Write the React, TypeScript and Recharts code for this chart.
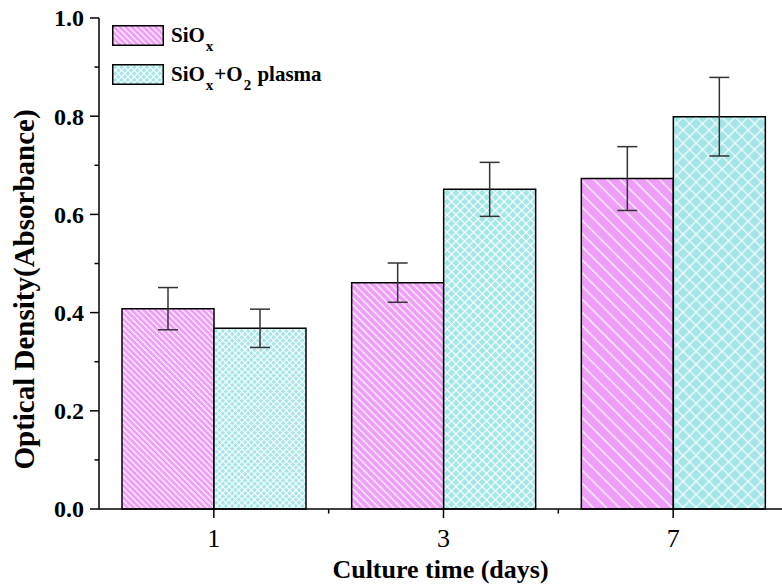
import React from "react";
import { BarChart, Bar, Cell, XAxis, YAxis, ErrorBar } from "recharts";

const DAYS = ["1", "3", "7"];
const SIOX = [0.408, 0.461, 0.673];
const SIOX_ERR = [0.043, 0.04, 0.065];
const PLASMA = [0.368, 0.651, 0.799];
const PLASMA_ERR = [0.039, 0.055, 0.08];
const Y_TICKS = [0, 0.1, 0.2, 0.3, 0.4, 0.5, 0.6, 0.7, 0.8, 0.9, 1.0];

const PINK = "#ee9ef9";
const CYAN = "#a4e6e8";
const FONT = '"Liberation Serif", "Times New Roman", serif';

/* hatch spacing per bar, the original scales them differently */
const PINK_STEP = [4.2, 5.2, 9.3];
const CYAN_STEP = [4.5, 6.2, 9.2];

const data = DAYS.map((d, i) => ({
  day: d,
  siox: SIOX[i],
  sioxErr: SIOX_ERR[i],
  plasma: PLASMA[i],
  plasmaErr: PLASMA_ERR[i],
}));

function Patterns() {
  return (
    <defs>
      {PINK_STEP.map((s, i) => (
        <pattern key={"p" + i} id={"pinkHatch" + i} width={s} height={s} patternUnits="userSpaceOnUse" patternTransform="rotate(45)">
          <rect width={s} height={s} fill={PINK} />
          <line x1={0} y1={s / 2} x2={s} y2={s / 2} stroke="#fff" strokeWidth={1.2} />
        </pattern>
      ))}
      {CYAN_STEP.map((s, i) => (
        <pattern key={"c" + i} id={"cyanHatch" + i} width={s} height={s} patternUnits="userSpaceOnUse" patternTransform="rotate(45)">
          <rect width={s} height={s} fill={CYAN} />
          <line x1={0} y1={s / 2} x2={s} y2={s / 2} stroke="#fff" strokeWidth={1.1} />
          <line x1={s / 2} y1={0} x2={s / 2} y2={s} stroke="#fff" strokeWidth={1.1} />
        </pattern>
      ))}
    </defs>
  );
}

function YTick(props: any) {
  const { x, y, payload } = props;
  const major = Math.round(payload.value * 10) % 2 === 0;
  return (
    <g>
      <line x1={x - (major ? 9 : 4.5)} x2={x} y1={y} y2={y} stroke="#000" strokeWidth={1.5} />
      {major && (
        <text x={x - 15} y={y} dy="0.35em" textAnchor="end" fontFamily={FONT} fontWeight="bold" fontSize={24} fill="#000">
          {payload.value.toFixed(1)}
        </text>
      )}
    </g>
  );
}

function XTick(props: any) {
  const { x, y, payload, index, visibleTicksCount, width } = props;
  const band = (width || 689) / (visibleTicksCount || 3);
  const last = index === (visibleTicksCount || 3) - 1;
  return (
    <g>
      <line x1={x} x2={x} y1={y} y2={y + 9} stroke="#000" strokeWidth={1.5} />
      {!last && <line x1={x + band / 2} x2={x + band / 2} y1={y} y2={y + 4.5} stroke="#000" strokeWidth={1.5} />}
      <text x={x} y={y + 38} textAnchor="middle" fontFamily={FONT} fontSize={26} fill="#000">
        {payload.value}
      </text>
    </g>
  );
}

function Swatch({ fill }: { fill: string }) {
  return (
    <svg width={52} height={21} style={{ display: "block" }}>
      <rect x={0.75} y={0.75} width={50.5} height={19.5} fill={fill} stroke="#000" strokeWidth={1.5} />
    </svg>
  );
}

export default function App() {
  const txt: React.CSSProperties = { fontFamily: FONT, fontWeight: "bold", fontSize: 21, color: "#000", marginLeft: 7, lineHeight: "20px" };
  const sub: React.CSSProperties = { fontSize: 15, position: "relative", top: 9, margin: "0 1px" };
  return (
    <div style={{ position: "fixed", left: 0, top: 0, width: 782, height: 588, overflow: "hidden", background: "#fff" }}>
      <BarChart width={800} height={588} data={data} margin={{ top: 18, right: 12, bottom: 0, left: 0 }} barCategoryGap={23} barGap={0}>
        <Patterns />
        <XAxis
          dataKey="day"
          height={79}
          axisLine={{ stroke: "#000", strokeWidth: 1.5 }}
          tickLine={false}
          tickSize={0}
          tickMargin={0}
          tick={<XTick />}
          interval={0}
          label={{
            content: (p: any) => (
              <text x={p.viewBox.x + p.viewBox.width / 2 - 3} y={p.viewBox.y + 69} textAnchor="middle" fontFamily={FONT} fontWeight="bold" fontSize={26} fill="#000">
                Culture time (days)
              </text>
            ),
          }}
        />
        <YAxis
          width={99}
          domain={[0, 1]}
          ticks={Y_TICKS}
          interval={0}
          axisLine={{ stroke: "#000", strokeWidth: 1.5 }}
          tickLine={false}
          tickSize={0}
          tickMargin={0}
          tick={<YTick />}
          label={{
            content: (p: any) => {
              const cy = p.viewBox.y + p.viewBox.height / 2 + 26;
              return (
                <text x={34} y={cy} transform={`rotate(-90, 34, ${cy})`} textAnchor="middle" fontFamily={FONT} fontWeight="bold" fontSize={29} fill="#000">
                  Optical Density(Absorbance)
                </text>
              );
            },
          }}
        />
        <Bar dataKey="siox" stroke="#000" strokeWidth={1.5} isAnimationActive={false}>
          {data.map((_, i) => (
            <Cell key={i} fill={`url(#pinkHatch${i})`} />
          ))}
          <ErrorBar dataKey="sioxErr" width={10} stroke="#333" strokeWidth={1.5} />
        </Bar>
        <Bar dataKey="plasma" stroke="#000" strokeWidth={1.5} isAnimationActive={false}>
          {data.map((_, i) => (
            <Cell key={i} fill={`url(#cyanHatch${i})`} />
          ))}
          <ErrorBar dataKey="plasmaErr" width={10} stroke="#333" strokeWidth={1.5} />
        </Bar>
      </BarChart>

      <div style={{ position: "absolute", left: 112, top: 25 }}>
        <div style={{ display: "flex", alignItems: "center", height: 21 }}>
          <Swatch fill="url(#pinkHatch0)" />
          <span style={txt}>
            SiO<span style={sub}>x</span>
          </span>
        </div>
        <div style={{ display: "flex", alignItems: "center", height: 21, marginTop: 18 }}>
          <Swatch fill="url(#cyanHatch0)" />
          <span style={txt}>
            SiO<span style={sub}>x</span>+O<span style={sub}>2</span> plasma
          </span>
        </div>
      </div>
    </div>
  );
}
